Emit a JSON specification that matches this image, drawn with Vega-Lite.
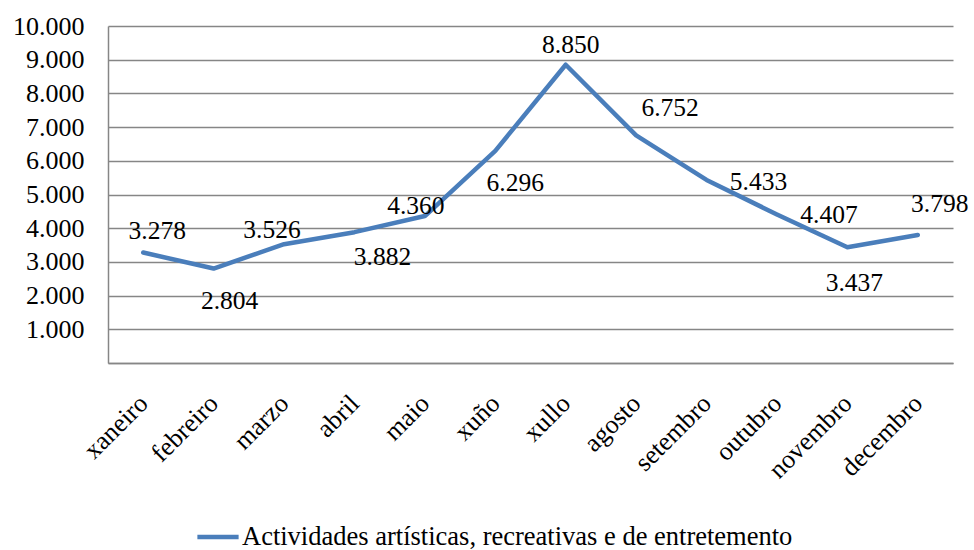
{
  "$schema": "https://vega.github.io/schema/vega-lite/v6.json",
  "autosize": {"type": "none"},
  "width": 845,
  "height": 337,
  "padding": {"left": 108, "top": 26, "right": 21, "bottom": 187},
  "config": {
    "locale": {"number": {"decimal": ",", "thousands": ".", "grouping": [3], "currency": ["", " €"]}},
    "font": "Liberation Serif",
    "view": {"stroke": null}
  },
  "data": {
    "values": [
      {"mes": "xaneiro", "valor": 3278},
      {"mes": "febreiro", "valor": 2804},
      {"mes": "marzo", "valor": 3526},
      {"mes": "abril", "valor": 3882},
      {"mes": "maio", "valor": 4360},
      {"mes": "xuño", "valor": 6296},
      {"mes": "xullo", "valor": 8850},
      {"mes": "agosto", "valor": 6752},
      {"mes": "setembro", "valor": 5433},
      {"mes": "outubro", "valor": 4407},
      {"mes": "novembro", "valor": 3437},
      {"mes": "decembro", "valor": 3798}
    ]
  },
  "encoding": {
    "x": {
      "field": "mes", "type": "ordinal", "sort": null,
      "scale": {"type": "point", "padding": 0.5},
      "axis": {
        "title": null, "labelAngle": -45, "labelAlign": "right", "labelBaseline": "middle",
        "labelFont": "Liberation Serif", "labelFontSize": 26, "labelColor": "#000000",
        "labelPadding": 36, "ticks": false, "grid": false,
        "domainColor": "#868686", "domainWidth": 1.5
      }
    },
    "y": {
      "field": "valor", "type": "quantitative",
      "scale": {"domain": [0, 10000], "nice": false},
      "axis": {
        "title": null, "values": [0, 1000, 2000, 3000, 4000, 5000, 6000, 7000, 8000, 9000, 10000],
        "format": ",d", "labelExpr": "datum.value === 0 ? '' : datum.label",
        "labelFont": "Liberation Serif", "labelFontSize": 26, "labelColor": "#000000",
        "labelPadding": 24, "ticks": false,
        "grid": true, "gridColor": "#868686", "gridWidth": 1.5,
        "domainColor": "#868686", "domainWidth": 1.5
      }
    }
  },
  "layer": [
    {
      "mark": {"type": "line", "strokeWidth": 4.5, "strokeJoin": "round", "strokeCap": "round"},
      "encoding": {
        "color": {
          "datum": "Actividades artísticas, recreativas e de entretemento",
          "scale": {"range": ["#4A7EBB"]},
          "legend": {
            "title": null, "orient": "none", "legendX": 87, "legendY": 488,
            "symbolType": "stroke", "symbolStrokeWidth": 4.5, "symbolSize": 1700,
            "labelFont": "Liberation Serif", "labelFontSize": 26.5, "labelColor": "#000000",
            "labelOffset": 1, "labelLimit": 1000
          }
        }
      }
    },
    {"transform": [{"filter": "datum.mes === 'xaneiro'"}], "mark": {"type": "text", "font": "Liberation Serif", "fontSize": 25.5, "baseline": "middle", "color": "#000000", "dx": 14, "dy": -22}, "encoding": {"text": {"field": "valor", "format": ",d"}}},
    {"transform": [{"filter": "datum.mes === 'febreiro'"}], "mark": {"type": "text", "font": "Liberation Serif", "fontSize": 25.5, "baseline": "middle", "color": "#000000", "dx": 16, "dy": 32}, "encoding": {"text": {"field": "valor", "format": ",d"}}},
    {"transform": [{"filter": "datum.mes === 'marzo'"}], "mark": {"type": "text", "font": "Liberation Serif", "fontSize": 25.5, "baseline": "middle", "color": "#000000", "dx": -12, "dy": -14}, "encoding": {"text": {"field": "valor", "format": ",d"}}},
    {"transform": [{"filter": "datum.mes === 'abril'"}], "mark": {"type": "text", "font": "Liberation Serif", "fontSize": 25.5, "baseline": "middle", "color": "#000000", "dx": 28, "dy": 25}, "encoding": {"text": {"field": "valor", "format": ",d"}}},
    {"transform": [{"filter": "datum.mes === 'maio'"}], "mark": {"type": "text", "font": "Liberation Serif", "fontSize": 25.5, "baseline": "middle", "color": "#000000", "dx": -9, "dy": -10}, "encoding": {"text": {"field": "valor", "format": ",d"}}},
    {"transform": [{"filter": "datum.mes === 'xuño'"}], "mark": {"type": "text", "font": "Liberation Serif", "fontSize": 25.5, "baseline": "middle", "color": "#000000", "dx": 20, "dy": 32}, "encoding": {"text": {"field": "valor", "format": ",d"}}},
    {"transform": [{"filter": "datum.mes === 'xullo'"}], "mark": {"type": "text", "font": "Liberation Serif", "fontSize": 25.5, "baseline": "middle", "color": "#000000", "dx": 5, "dy": -20}, "encoding": {"text": {"field": "valor", "format": ",d"}}},
    {"transform": [{"filter": "datum.mes === 'agosto'"}], "mark": {"type": "text", "font": "Liberation Serif", "fontSize": 25.5, "baseline": "middle", "color": "#000000", "dx": 34, "dy": -27}, "encoding": {"text": {"field": "valor", "format": ",d"}}},
    {"transform": [{"filter": "datum.mes === 'setembro'"}], "mark": {"type": "text", "font": "Liberation Serif", "fontSize": 25.5, "baseline": "middle", "color": "#000000", "dx": 52, "dy": 2}, "encoding": {"text": {"field": "valor", "format": ",d"}}},
    {"transform": [{"filter": "datum.mes === 'outubro'"}], "mark": {"type": "text", "font": "Liberation Serif", "fontSize": 25.5, "baseline": "middle", "color": "#000000", "dx": 52, "dy": 1}, "encoding": {"text": {"field": "valor", "format": ",d"}}},
    {"transform": [{"filter": "datum.mes === 'novembro'"}], "mark": {"type": "text", "font": "Liberation Serif", "fontSize": 25.5, "baseline": "middle", "color": "#000000", "dx": 7, "dy": 36}, "encoding": {"text": {"field": "valor", "format": ",d"}}},
    {"transform": [{"filter": "datum.mes === 'decembro'"}], "mark": {"type": "text", "font": "Liberation Serif", "fontSize": 25.5, "baseline": "middle", "color": "#000000", "dx": 22, "dy": -31}, "encoding": {"text": {"field": "valor", "format": ",d"}}}
  ]
}
